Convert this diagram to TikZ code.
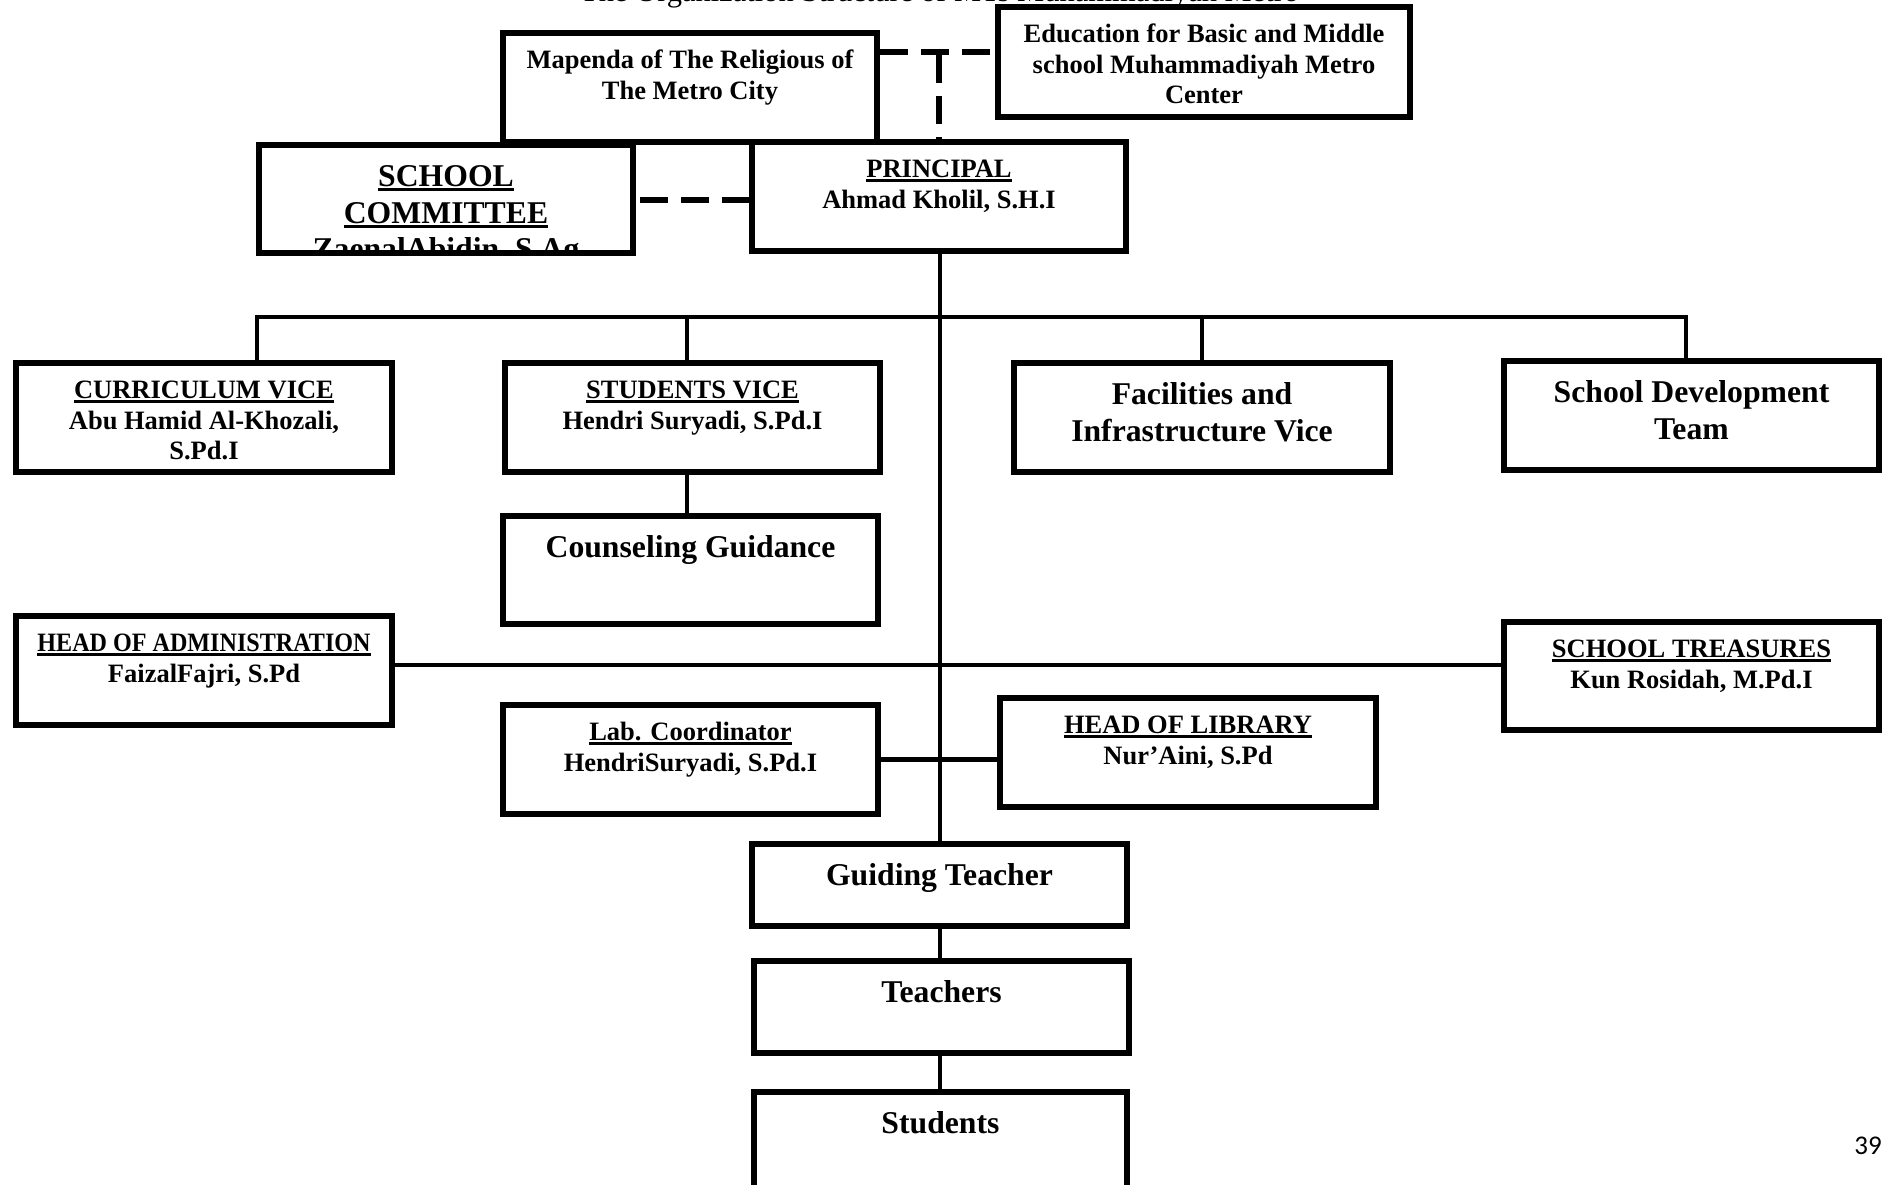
\documentclass[tikz,border=0pt]{standalone}
\usepackage{fontspec}
\usepackage{graphicx}
\setmainfont{Liberation Serif}
\newfontfamily\pagenumfont{Carlito}
\usetikzlibrary{calc}

\newcommand\myul[1]{\leavevmode\setbox0=\hbox{#1}\rlap{\rule[-3.6pt]{\wd0}{2.4pt}}\box0}
\newcommand\myulL[1]{\leavevmode\setbox0=\hbox{#1}\rlap{\rule[-4.6pt]{\wd0}{3pt}}\box0}

\tikzset{
  orgbox/.style={draw, line width=6pt, fill=white, inner sep=0pt, rectangle},
  smalltxt/.style={anchor=north, inner sep=0pt, align=center, yshift=-17.4pt,
    font=\fontsize{26.5}{30.5}\selectfont\bfseries},
  bigtxt/.style={anchor=north, inner sep=0pt, align=center, yshift=-19pt,
    font=\fontsize{31.7}{36.5}\selectfont\bfseries},
  link/.style={line width=4.5pt},
  dashlink/.style={line width=6.5pt, dash pattern=on 28pt off 13pt},
}

% name, x1, y1, x2, y2
\newcommand\orgbox[5]{\node[orgbox, minimum width={#4-#2-6}, minimum height={#5-#3-6}] (#1) at ({(#2+#4)/2},{(#3+#5)/2}) {};}
% name, style, x1, x2, ytop, text
\newcommand\orgtext[6]{\node[#2] (#1-t) at ({(#3+#4)/2},{#5}) {#6};}

\begin{document}
\begin{tikzpicture}[x=1pt,y=-1pt]
\useasboundingbox (0,0) rectangle (1882,1184);
\fill[white] (0,0) rectangle (1882,1184);

% caption (cut off at the top of the page, as in the original)
\node[anchor=base west, inner sep=0pt, font=\fontsize{30.5}{36}\selectfont] (caption) at (580,1)
  {The Organization Structure of MTs Muhammadiyah Metro};

% top boxes
\orgbox{mapenda}{500}{30}{880}{145}
\orgtext{mapenda}{smalltxt}{500}{880}{30}{\strut Mapenda of The Religious of\\\strut The Metro City}
\orgbox{edu}{995}{4}{1413}{120}
\orgtext{edu}{smalltxt}{995}{1413}{4}{\strut Education for Basic and Middle\\\strut school Muhammadiyah Metro\\\strut Center}

\orgbox{committee}{256}{142}{636}{256}
\begin{scope}
  \clip ([shift={(3,3)}]committee.north west) rectangle ([shift={(-3,-3)}]committee.south east);
  \orgtext{committee}{bigtxt}{256}{636}{142}{\strut\myulL{SCHOOL}\\\strut\myulL{COMMITTEE}\\\strut ZaenalAbidin, S.Ag}
\end{scope}
\orgbox{principal}{749}{139}{1129}{254}
\orgtext{principal}{smalltxt}{749}{1129}{139}{\strut\myul{PRINCIPAL}\\\strut Ahmad Kholil, S.H.I}

% dashed links
\coordinate (dashtop) at (940,52);
\coordinate (dashmid) at (940,200);
\draw[dashlink] (mapenda.east |- dashtop) -- (edu.west |- dashtop);
\draw[dashlink, dash phase=-3pt] (principal.north |- dashtop) -- (principal.north);
\draw[dashlink, dash phase=-4pt] (committee.east |- dashmid) -- (principal.west |- dashmid);

% vice row
\orgbox{curr}{13}{360}{395}{475}
\orgtext{curr}{smalltxt}{13}{395}{360}{\strut\myul{CURRICULUM VICE}\\\strut Abu Hamid Al-Khozali,\\\strut S.Pd.I}
\orgbox{sv}{502}{360}{883}{475}
\orgtext{sv}{smalltxt}{502}{883}{360}{\strut\myul{STUDENTS VICE}\\\strut Hendri Suryadi, S.Pd.I}
\orgbox{fac}{1011}{360}{1393}{475}
\orgtext{fac}{bigtxt}{1011}{1393}{360}{\strut Facilities and\\\strut Infrastructure Vice}
\orgbox{sdt}{1501}{358}{1882}{473}
\orgtext{sdt}{bigtxt}{1501}{1882}{358}{\strut School Development\\\strut Team}

\orgbox{couns}{500}{513}{881}{627}
\orgtext{couns}{bigtxt}{500}{881}{513}{\strut Counseling Guidance}

\orgbox{admin}{13}{613}{395}{728}
\orgtext{admin}{smalltxt}{13}{395}{613}{\strut\myul{\scalebox{0.91}[1]{HEAD OF ADMINISTRATION}}\\\strut FaizalFajri, S.Pd}
\orgbox{treas}{1501}{619}{1882}{733}
\orgtext{treas}{smalltxt}{1501}{1882}{619}{\strut\myul{SCHOOL TREASURES}\\\strut Kun Rosidah, M.Pd.I}

\orgbox{lab}{500}{702}{881}{817}
\orgtext{lab}{smalltxt}{500}{881}{702}{\strut\myul{Lab. Coordinator}\\\strut HendriSuryadi, S.Pd.I}
\orgbox{lib}{997}{695}{1379}{810}
\orgtext{lib}{smalltxt}{997}{1379}{695}{\strut\myul{HEAD OF LIBRARY}\\\strut Nur’Aini, S.Pd}

\orgbox{guiding}{749}{841}{1130}{929}
\orgtext{guiding}{bigtxt}{749}{1130}{841}{\strut Guiding Teacher}
\orgbox{teachers}{751}{958}{1132}{1056}
\orgtext{teachers}{bigtxt}{751}{1132}{958}{\strut Teachers}
\orgbox{students}{751}{1089}{1130}{1215}
\orgtext{students}{bigtxt}{751}{1130}{1089}{\strut Students}

% solid links
\coordinate (bus) at (940,317);
\coordinate (mainx) at (940,0);
\coordinate (dropA) at (257,317);
\coordinate (dropB) at (687,317);
\coordinate (dropC) at (1202,317);
\coordinate (dropD) at (1686,317);
\coordinate (adminline) at (395,665);
\draw[link] (principal.south -| mainx) -- (guiding.north -| mainx);
\draw[link] (curr.north -| dropA) -- (dropA) -- (dropD) -- (sdt.north -| dropD);
\draw[link] (sv.north -| dropB) -- (dropB);
\draw[link] (fac.north -| dropC) -- (dropC);
\draw[link] (sv.south -| dropB) -- (couns.north -| dropB);
\draw[link] (admin.east |- adminline) -- (treas.west |- adminline);
\draw[link] (lab.east) -- (lib.west |- lab.east);
\draw[link] (guiding.south -| mainx) -- (teachers.north -| mainx);
\draw[link] (teachers.south -| mainx) -- (students.north -| mainx);

% page number
\node[anchor=base east, inner sep=0pt, font=\pagenumfont\fontsize{27}{32}\selectfont] (pagenum) at (1882,1154) {39};
\end{tikzpicture}
\end{document}
